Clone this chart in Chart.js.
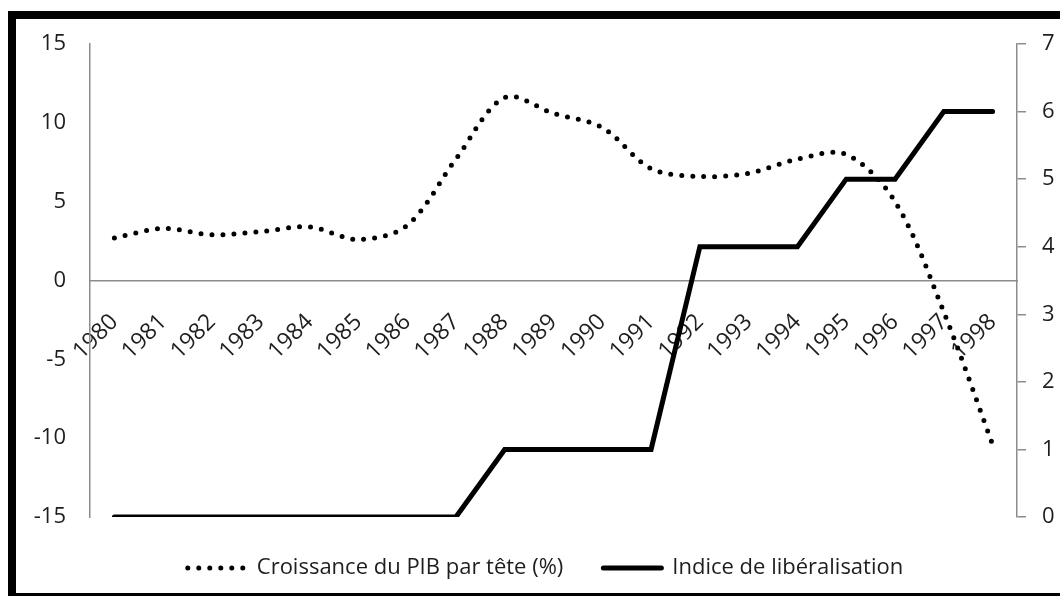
<!DOCTYPE html>
<html>
<head>
<meta charset="utf-8">
<title>Croissance du PIB par tête et indice de libéralisation</title>
<script src="https://cdn.jsdelivr.net/npm/chart.js@4.4.0/dist/chart.umd.min.js"></script>
<style>
    html, body { margin: 0; padding: 0; background: #fff; overflow: hidden; }
    #frame {
        position: absolute;
        left: 8px;
        top: 11px;
        width: 1059px;
        height: 574px;
        border: 8px solid #000;
        background: #fff;
    }
    #chartBox { position: relative; width: 1059px; height: 574px; }
</style>
</head>
<body>
<div id="frame">
    <div id="chartBox"><canvas id="pibChart"></canvas></div>
</div>
<script>
// Data
const years = ['1980', '1981', '1982', '1983', '1984', '1985', '1986', '1987', '1988', '1989',
               '1990', '1991', '1992', '1993', '1994', '1995', '1996', '1997', '1998'];

// Croissance du PIB par tête (%) - left axis
const pibGrowth = [2.7, 3.3, 2.9, 3.1, 3.4, 2.6, 3.5, 7.7, 11.6, 10.6,
                   9.7, 7.1, 6.6, 6.8, 7.7, 8.0, 5.0, -2.0, -10.4];

// Indice de libéralisation - right axis
const libIndex = [0, 0, 0, 0, 0, 0, 0, 0, 1, 1,
                  1, 1, 4, 4, 4, 5, 5, 6, 6];

const leftTicks = { min: -15, max: 15, step: 5 };
const rightTicks = { min: 0, max: 7, step: 1 };

const axisGrey = '#8c8c8c';
const textColor = '#1e1e1e';

Chart.defaults.font.family = '"Open Sans", "Noto Sans", sans-serif';
Chart.defaults.font.size = 22;
Chart.defaults.color = textColor;

/**
 * Legend items: keep each dataset's dash and cap on the line sample
 */
function legendLabels(chart) {
    const items = Chart.defaults.plugins.legend.labels.generateLabels(chart);
    items.forEach((item, i) => {
        const ds = chart.data.datasets[i];
        item.lineDash = ds.borderDash || [];
        item.lineCap = ds.borderCapStyle || 'butt';
        item.lineWidth = ds.borderWidth;
        item.strokeStyle = ds.borderColor;
    });
    return items;
}

/**
 * Build the chart
 */
function buildChart() {
    const ctx = document.getElementById('pibChart');

    return new Chart(ctx, {
        type: 'line',
        data: {
            labels: years,
            datasets: [{
                label: 'Croissance du PIB par tête (%)',
                data: pibGrowth,
                yAxisID: 'y',
                borderColor: '#000',
                backgroundColor: '#000',
                borderWidth: 5,
                borderDash: [0, 11],
                borderCapStyle: 'round',
                tension: 0.33,
                pointRadius: 0,
                pointHoverRadius: 0
            }, {
                label: 'Indice de libéralisation',
                data: libIndex,
                yAxisID: 'y1',
                borderColor: '#000',
                backgroundColor: '#000',
                borderWidth: 5,
                borderCapStyle: 'round',
                tension: 0,
                pointRadius: 0,
                pointHoverRadius: 0
            }]
        },
        options: {
            responsive: true,
            maintainAspectRatio: false,
            animation: false,
            layout: {
                padding: { top: 25, bottom: 4, left: 0, right: 0 }
            },
            plugins: {
                tooltip: { enabled: false },
                legend: {
                    position: 'bottom',
                    labels: {
                        usePointStyle: true,
                        pointStyle: 'line',
                        pointStyleWidth: 58,
                        padding: 40,
                        color: textColor,
                        font: { size: 22 },
                        generateLabels: legendLabels
                    }
                }
            },
            scales: {
                x: {
                    type: 'category',
                    position: { y: 0 },
                    offset: true,
                    grid: { display: false, drawTicks: false },
                    border: { display: true, color: axisGrey, width: 1.5 },
                    ticks: {
                        autoSkip: false,
                        minRotation: 45,
                        maxRotation: 45,
                        padding: 28,
                        color: textColor,
                        font: { size: 23 }
                    }
                },
                y: {
                    position: 'left',
                    min: leftTicks.min,
                    max: leftTicks.max,
                    // tick marks hidden, their length only spaces the labels
                    grid: { display: false, drawTicks: true, tickLength: 21 },
                    border: { display: true, color: axisGrey, width: 1.5 },
                    ticks: {
                        stepSize: leftTicks.step,
                        padding: 3,
                        color: textColor
                    },
                    afterFit: function(scale) { scale.width = 74; }
                },
                y1: {
                    position: 'right',
                    min: rightTicks.min,
                    max: rightTicks.max,
                    grid: {
                        display: true,
                        drawOnChartArea: false,
                        drawTicks: true,
                        tickLength: 9,
                        color: axisGrey,
                        lineWidth: 1.5
                    },
                    border: { display: true, color: axisGrey, width: 1.5 },
                    ticks: {
                        stepSize: rightTicks.step,
                        padding: 16,
                        color: textColor,
                        font: { size: 22, lineHeight: 0.6 }
                    },
                    afterFit: function(scale) { scale.width = 58; }
                }
            }
        }
    });
}

document.addEventListener('DOMContentLoaded', function() {
    buildChart();
});
</script>
</body>
</html>
